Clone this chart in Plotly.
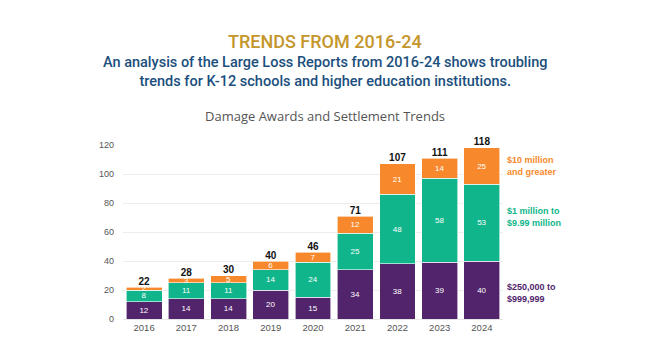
import plotly.graph_objects as go

years = ["2016", "2017", "2018", "2019", "2020", "2021", "2022", "2023", "2024"]
low = [12, 14, 14, 20, 15, 34, 38, 39, 40]
mid = [8, 11, 11, 14, 24, 25, 48, 58, 53]
high = [2, 3, 5, 6, 7, 12, 21, 14, 25]
totals = [22, 28, 30, 40, 46, 71, 107, 111, 118]

PURPLE = "#52246B"
GREEN = "#10B58B"
ORANGE = "#F7892C"

fig = go.Figure()
for name, vals, col in [("$250,000 to $999,999", low, PURPLE),
                        ("$1 million to $9.99 million", mid, GREEN),
                        ("$10 million and greater", high, ORANGE)]:
    fig.add_trace(go.Bar(
        x=years, y=vals, name=name, marker=dict(color=col, line=dict(color="white", width=0.6)),
        text=[str(v) for v in vals], textposition="inside", insidetextanchor="middle",
        textangle=0, constraintext="none",
        textfont=dict(color="white", size=8, family="Arial"), cliponaxis=False,
        hoverinfo="skip"))

fig.add_trace(go.Scatter(
    x=years, y=totals, mode="text", text=[str(t) for t in totals],
    textposition="top center", textfont=dict(color="#111", size=10, family="Arial", weight="bold"),
    cliponaxis=False, hoverinfo="skip", showlegend=False))

H = 174.0
def py(p):
    return (319 - p) / H

anns = [
    dict(text="TRENDS FROM 2016-24", y=py(42), font=dict(size=18, color="#C4962B", family="Roboto", weight=500)),
    dict(text="An analysis of the Large Loss Reports from 2016-24 shows troubling<br>trends for K-12 schools and higher education institutions.",
         y=py(72), font=dict(size=14.5, color="#1B4F7D", family="Roboto", weight=500)),
    dict(text="Damage Awards and Settlement Trends", y=py(116), font=dict(size=13, color="#555", family="Open Sans")),
]
for a in anns:
    a.update(xref="paper", yref="paper", x=(325 - 123) / 380.0, showarrow=False,
             xanchor="center", yanchor="middle")
    fig.add_annotation(**a)

legend_items = [("$10 million<br>and greater", ORANGE, 166),
                ("$1 million to<br>$9.99 million", GREEN, 217),
                ("$250,000 to<br>$999,999", PURPLE, 293)]
for t, c, p in legend_items:
    fig.add_annotation(text=t, xref="paper", yref="paper", x=(505 - 123) / 380.0, y=py(p),
                       xanchor="left", yanchor="middle", align="left", showarrow=False,
                       font=dict(size=9, color=c, family="Arial", weight="bold"))

fig.update_layout(
    barmode="stack", bargap=0.15, width=648, height=352,
    margin=dict(l=123, r=145, t=145, b=33),
    paper_bgcolor="white", plot_bgcolor="white", showlegend=False,
    uniformtext=dict(mode="show", minsize=8),
    xaxis=dict(showgrid=False, tickfont=dict(size=9.5, color="#555", family="Arial"), ticks="",
               showline=True, linecolor="#e6e6e6"),
    yaxis=dict(range=[0, 120], dtick=20, gridcolor="#ececec", zeroline=False,
               tickfont=dict(size=9, color="#555", family="Arial"), ticklabelstandoff=8),
)
fig.write_html("out.html")
